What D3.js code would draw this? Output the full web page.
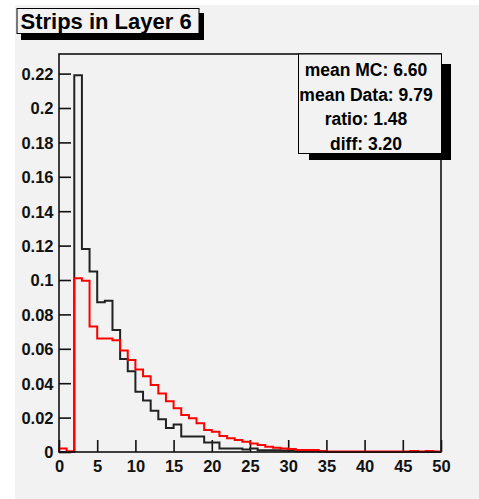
<!DOCTYPE html>
<html>
<head>
<meta charset="utf-8">
<script src="https://cdn.jsdelivr.net/npm/d3@7"></script>
<style>
  body { margin: 0; background: #fff; }
  text { font-family: "Liberation Sans", Arial, sans-serif; font-weight: bold; }
</style>
</head>
<body>
<svg id="chart" width="479" height="499"></svg>
<script>
// bin contents, bins of width 1 from 0 to 50
var mcValues = [0, 0, 0.219, 0.118, 0.105, 0.087, 0.088, 0.071, 0.054, 0.047,
  0.035, 0.030, 0.024, 0.019, 0.014, 0.016, 0.009, 0.009, 0.009, 0.0055,
  0.0055, 0.002, 0.002, 0.002, 0.0015, 0.002, 0.001, 0.001, 0.001, 0.0008,
  0.0008, 0.0005, 0.0005, 0.0005, 0.0005, 0, 0, 0, 0, 0,
  0, 0, 0, 0, 0, 0, 0, 0, 0, 0];
var dataValues = [0.002, 0.0005, 0.101, 0.0996, 0.073, 0.066, 0.066, 0.065, 0.059, 0.0535,
  0.048, 0.044, 0.039, 0.034, 0.0295, 0.0254, 0.0215, 0.0196, 0.0167, 0.0128,
  0.0118, 0.0093, 0.008, 0.007, 0.006, 0.005, 0.004, 0.003, 0.0025, 0.002,
  0.0017, 0.0012, 0.0012, 0.0012, 0.0005, 0.0003, 0.0003, 0.0003, 0.0003, 0.0003,
  0.0003, 0.0003, 0.0003, 0.0003, 0.0003, 0.0003, 0.0006, 0.0003, 0.0006, 0.0003];
var xTicks = [0, 5, 10, 15, 20, 25, 30, 35, 40, 45, 50];
var yTicks = [0, 0.02, 0.04, 0.06, 0.08, 0.1, 0.12, 0.14, 0.16, 0.18, 0.2, 0.22];
var titleText = "Strips in Layer 6";
var statLines = ["mean MC: 6.60", "mean Data: 9.79", "ratio: 1.48", "diff: 3.20"];

var svg = d3.select("#chart");

// canvas
svg.append("rect").attr("x", 15).attr("y", 5).attr("width", 464).attr("height", 494)
  .style("fill", "#f2f2f2");

var x = d3.scaleLinear().domain([0, 50]).range([59, 441]);
var y = d3.scaleLinear().domain([0, 0.2314]).range([452, 54]);

// minor ticks
var xMinor = d3.range(0, 51, 1);
var yMinor = d3.range(0, 0.231, 0.005);

var gx = svg.append("g").attr("transform", "translate(0," + y(0) + ")");
gx.call(d3.axisBottom(x).tickValues(xMinor).tickSize(-6).tickFormat(""));
gx.call(d3.axisBottom(x).tickValues(xTicks).tickSize(-12).tickPadding(6).tickFormat(d3.format("d")));

var gy = svg.append("g").attr("transform", "translate(" + x(0) + ",0)");
gy.call(d3.axisLeft(y).tickValues(yMinor).tickSize(-6).tickFormat(""));
gy.call(d3.axisLeft(y).tickValues(yTicks).tickSize(-12).tickPadding(6).tickFormat(d3.format("~g")));

svg.selectAll(".domain").remove();
svg.selectAll(".tick line").style("stroke", "#111").style("stroke-width", 1.6);
gx.selectAll("text").style("font-size", "16.5px").attr("dy", null).attr("y", 19.5);
gy.selectAll("text").style("font-size", "16.5px").attr("dy", "0.36em").attr("x", -5.5);
gx.selectAll("text").style("fill", "#111");
gy.selectAll("text").style("fill", "#111");

// histograms as step outlines
function outline(vals) {
  var pts = [[0, 0]];
  vals.forEach(function (v, i) { pts.push([i, v]); });
  pts.push([vals.length, vals[vals.length - 1]]);
  pts.push([vals.length, 0]);
  return pts;
}
var line = d3.line()
  .x(function (d) { return x(d[0]); })
  .y(function (d) { return y(d[1]); })
  .curve(d3.curveStepAfter);

svg.append("path").attr("d", line(outline(mcValues)))
  .style("fill", "none").style("stroke", "#222").style("stroke-width", 2);
svg.append("path").attr("d", line(outline(dataValues)))
  .style("fill", "none").style("stroke", "#ff0000").style("stroke-width", 2);

// frame
svg.append("rect").attr("x", x(0)).attr("y", y(0.2314))
  .attr("width", x(50) - x(0)).attr("height", y(0) - y(0.2314))
  .style("fill", "none").style("stroke", "#111").style("stroke-width", 1.6);

// title box with shadow
svg.append("rect").attr("x", 21).attr("y", 13).attr("width", 183).attr("height", 27).style("fill", "#000");
svg.append("rect").attr("x", 17).attr("y", 8.5).attr("width", 182).attr("height", 25)
  .style("fill", "#f2f2f2").style("stroke", "#000").style("stroke-width", 1);
svg.append("text").attr("x", 20.5).attr("y", 28.5).style("font-size", "22px").text(titleText);

// stats box with shadow
svg.append("rect").attr("x", 309).attr("y", 64).attr("width", 142).attr("height", 96).style("fill", "#000");
svg.append("rect").attr("x", 298.5).attr("y", 54).attr("width", 143).attr("height", 99.5)
  .style("fill", "#f2f2f2").style("stroke", "#000").style("stroke-width", 1);
svg.selectAll(".stat").data(statLines).enter().append("text")
  .attr("class", "stat")
  .attr("x", 366)
  .attr("y", function (d, i) { return 76 + i * 24.7; })
  .attr("text-anchor", "middle")
  .style("font-size", "17.5px")
  .text(function (d) { return d; });
</script>
</body>
</html>
